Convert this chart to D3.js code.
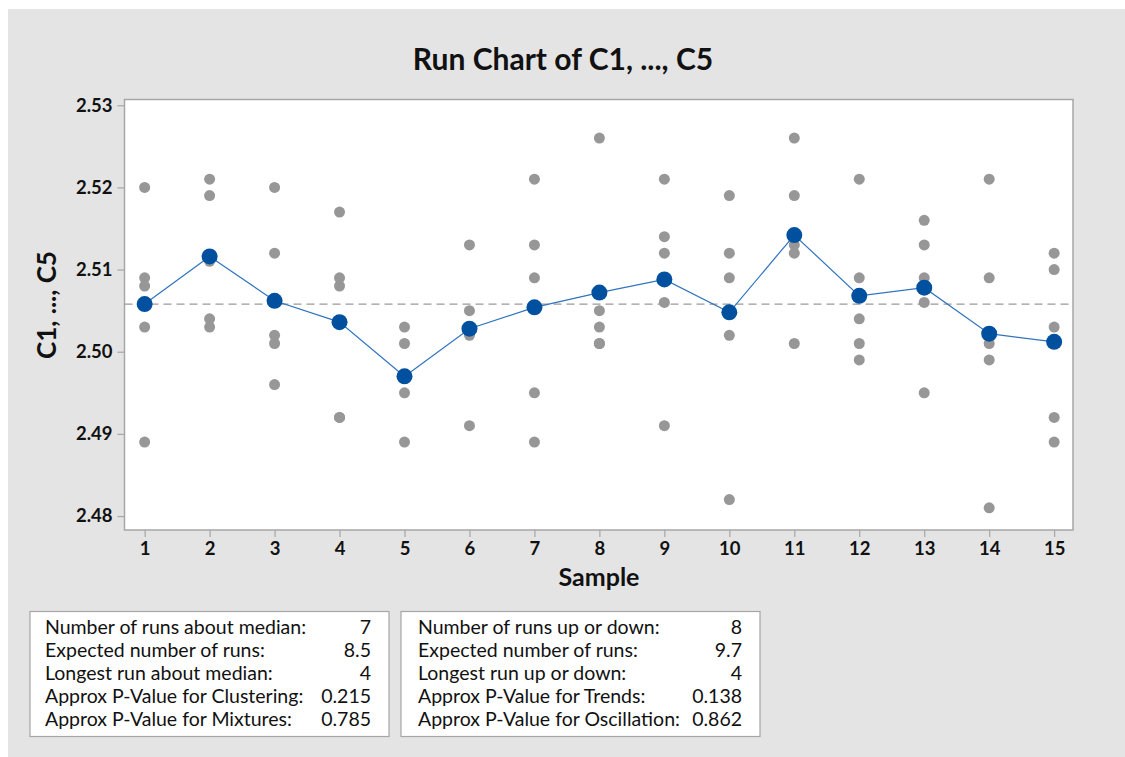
<!DOCTYPE html>
<html>
<head>
<meta charset="utf-8">
<script src="https://cdn.jsdelivr.net/npm/d3@7"></script>
<style>
  html, body { margin: 0; padding: 0; background: #ffffff; }
  svg { display: block; }
  text { font-family: "Segoe UI", Lato, "Open Sans", sans-serif; fill: #111111; }
</style>
</head>
<body>
<svg id="chart" width="1125" height="757"></svg>
<script>
// ---- data ----
const samples = [1, 2, 3, 4, 5, 6, 7, 8, 9, 10, 11, 12, 13, 14, 15];
const c1 = [2.520, 2.521, 2.520, 2.517, 2.503, 2.513, 2.521, 2.526, 2.521, 2.519, 2.526, 2.521, 2.516, 2.521, 2.512];
const c2 = [2.509, 2.519, 2.512, 2.509, 2.501, 2.505, 2.513, 2.505, 2.514, 2.512, 2.519, 2.509, 2.513, 2.509, 2.510];
const c3 = [2.508, 2.511, 2.502, 2.508, 2.497, 2.503, 2.509, 2.503, 2.512, 2.509, 2.513, 2.504, 2.509, 2.501, 2.503];
const c4 = [2.503, 2.504, 2.501, 2.492, 2.495, 2.502, 2.495, 2.501, 2.506, 2.502, 2.512, 2.501, 2.506, 2.499, 2.492];
const c5 = [2.489, 2.503, 2.496, 2.492, 2.489, 2.491, 2.489, 2.501, 2.491, 2.482, 2.501, 2.499, 2.495, 2.481, 2.489];
const yTicks = [2.48, 2.49, 2.50, 2.51, 2.52, 2.53];
const titleText = "Run Chart of C1, ..., C5";
const xLabel = "Sample";
const yLabel = "C1, ..., C5";
const leftStatLabels = ["Number of runs about median:", "Expected number of runs:", "Longest run about median:", "Approx P-Value for Clustering:", "Approx P-Value for Mixtures:"];
const leftStatValues = ["7", "8.5", "4", "0.215", "0.785"];
const rightStatLabels = ["Number of runs up or down:", "Expected number of runs:", "Longest run up or down:", "Approx P-Value for Trends:", "Approx P-Value for Oscillation:"];
const rightStatValues = ["8", "9.7", "4", "0.138", "0.862"];

// ---- derived ----
const columns = [c1, c2, c3, c4, c5];
const means = samples.map((s, i) => d3.mean(columns, c => c[i]));
const median = d3.median(means);
const points = [];
samples.forEach((s, i) => columns.forEach(c => points.push({ s, v: c[i] })));

// ---- layout ----
const svg = d3.select("#chart");
svg.append("rect").attr("x", 8).attr("y", 9).attr("width", 1117).attr("height", 748).attr("fill", "#e4e4e4");

const plot = { left: 124.5, top: 99.5, right: 1073, bottom: 530 };
const x = d3.scaleLinear().domain([0.69, 15.29]).range([plot.left, plot.right]);
const y = d3.scaleLinear().domain([2.4783, 2.5307]).range([plot.bottom, plot.top]);

svg.append("rect")
  .attr("x", plot.left).attr("y", plot.top)
  .attr("width", plot.right - plot.left).attr("height", plot.bottom - plot.top)
  .attr("fill", "#ffffff").attr("stroke", "#a6a6a6").attr("stroke-width", 1.5);

// axes
const yAxis = svg.append("g").attr("transform", `translate(${plot.left},0)`)
  .call(d3.axisLeft(y).tickValues(yTicks).tickFormat(d3.format(".2f")).tickSize(7).tickPadding(5));
const xAxis = svg.append("g").attr("transform", `translate(0,${plot.bottom})`)
  .call(d3.axisBottom(x).tickValues(samples).tickFormat(d3.format("d")).tickSize(7).tickPadding(5));
[yAxis, xAxis].forEach(a => {
  a.select(".domain").remove();
  a.selectAll(".tick line").attr("stroke", "#a6a6a6").attr("stroke-width", 1.2);
  a.selectAll(".tick text").attr("fill", "#111111").style("font-size", "18.5px").style("font-weight", "bold");
});

// median line
svg.append("line")
  .attr("x1", plot.left).attr("x2", plot.right)
  .attr("y1", y(median)).attr("y2", y(median))
  .attr("stroke", "#9a9a9a").attr("stroke-width", 1.2).attr("stroke-dasharray", "8,5");

// individual points
svg.append("g").selectAll("circle").data(points).join("circle")
  .attr("cx", d => x(d.s)).attr("cy", d => y(d.v)).attr("r", 5.5)
  .attr("fill", "#979797");

// mean line
svg.append("path")
  .datum(samples.map((s, i) => ({ s, v: means[i] })))
  .attr("fill", "none").attr("stroke", "#2f74bf").attr("stroke-width", 1.2)
  .attr("d", d3.line().x(d => x(d.s)).y(d => y(d.v)));

svg.append("g").selectAll("circle").data(samples.map((s, i) => ({ s, v: means[i] }))).join("circle")
  .attr("cx", d => x(d.s)).attr("cy", d => y(d.v)).attr("r", 8)
  .attr("fill", "#0050a0");

// title and axis labels
svg.append("text").attr("x", 563).attr("y", 70).attr("text-anchor", "middle")
  .style("font-size", "30px").style("font-weight", "bold").text(titleText);
svg.append("text").attr("x", 599).attr("y", 586).attr("text-anchor", "middle")
  .style("font-size", "25px").style("font-weight", "bold").text(xLabel);
svg.append("text").attr("transform", "translate(56,305) rotate(-90)").attr("text-anchor", "middle")
  .style("font-size", "26px").style("font-weight", "bold").text(yLabel);

// stat boxes
function statBox(bx, bw, labelX, valueX, labels, values) {
  svg.append("rect").attr("x", bx).attr("y", 611.5).attr("width", bw).attr("height", 125)
    .attr("fill", "#ffffff").attr("stroke", "#a6a6a6").attr("stroke-width", 1.2);
  const g = svg.append("g");
  labels.forEach((l, i) => {
    g.append("text").attr("x", labelX).attr("y", 634 + i * 23).style("font-size", "19.5px").text(l);
    g.append("text").attr("x", valueX).attr("y", 634 + i * 23).attr("text-anchor", "end")
      .style("font-size", "19.5px").text(values[i]);
  });
}
statBox(30, 359, 45, 371, leftStatLabels, leftStatValues);
statBox(401, 359, 418, 742, rightStatLabels, rightStatValues);
</script>
</body>
</html>
